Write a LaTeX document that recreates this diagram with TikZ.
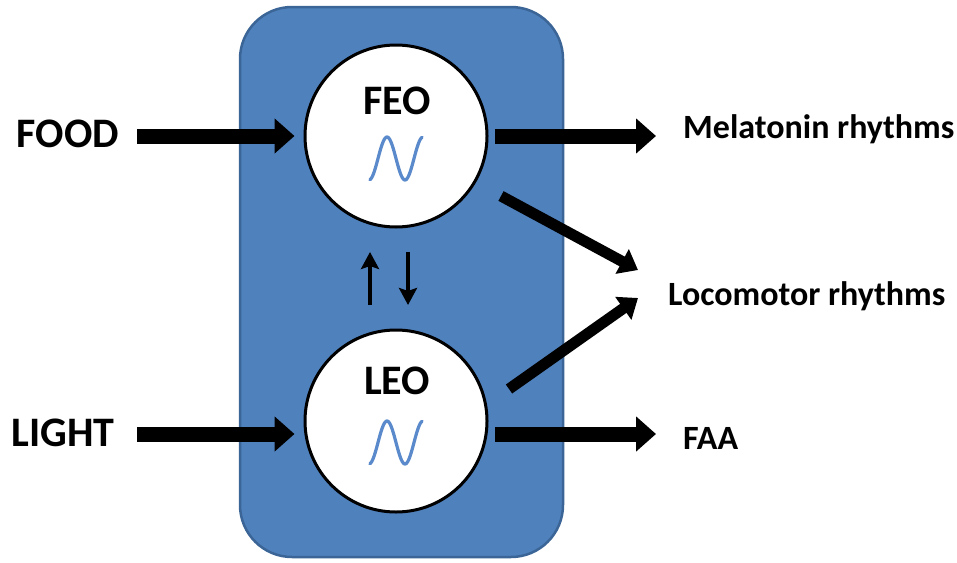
\documentclass[tikz,border=0pt]{standalone}
\usepackage{fontspec}
\setmainfont{Carlito}
\usetikzlibrary{arrows.meta}
\definecolor{boxfill}{HTML}{4F81BD}
\definecolor{boxedge}{HTML}{3A6596}
\definecolor{wave}{HTML}{5A8ACB}
\tikzset{
  bigarrow/.style={line width=15pt,-{Triangle[width=34pt,length=20pt]}},
  midarrow/.style={line width=11pt,-{Triangle[width=27pt,length=18pt]}},
  smallarrow/.style={line width=4pt,-{Stealth[width=18pt,length=17pt,inset=3pt]}},
  osc/.style={circle,draw=black,line width=3pt,fill=white,minimum size=182pt,inner sep=0pt},
  biglabel/.style={font=\bfseries\fontsize{42}{44}\selectfont,inner sep=0pt},
  outlabel/.style={font=\bfseries\fontsize{34}{36}\selectfont,inner sep=0pt,anchor=west},
  wavestyle/.style={wave,line width=3.2pt,line cap=round}
}
\begin{document}
\begin{tikzpicture}[x=1pt,y=-1pt]
\useasboundingbox (0,0) rectangle (957,562);
% body of the system
\draw[fill=boxfill,draw=boxedge,line width=2.5pt,rounded corners=52pt] (240,7) rectangle (563,557);
% oscillators
\node[osc] (feo) at (396,136) {};
\node[osc] (leo) at (396,421) {};
\node[biglabel] (feot) at (397,101) {FEO};
\node[biglabel] (leot) at (397,381) {LEO};
\draw[wavestyle] plot[domain=-0.95:1.95,samples=80,smooth] ({387+18*\x},{158.5-21.5*cos(\x*180)});
\draw[wavestyle] plot[domain=-0.95:1.95,samples=80,smooth] ({387+18*\x},{442.5-21.5*cos(\x*180)});
% inputs
\node[biglabel] (food) at (68,134) {FOOD};
\node[biglabel] (light) at (63,433) {LIGHT};
\coordinate (foodin) at (137,136);
\coordinate (lightin) at (137,434);
\draw[bigarrow] (foodin) -- ([xshift=-9pt]feo.west |- foodin);
\draw[bigarrow] (lightin) -- ([xshift=-9pt]leo.west |- lightin);
% outputs
\node[outlabel] (mel) at (683,129) {Melatonin rhythms};
\node[outlabel] (loco) at (668,296) {Locomotor rhythms};
\node[outlabel] (faa) at (683,438) {FAA};
\coordinate (melout) at (495,136);
\coordinate (faaout) at (495,434);
\draw[bigarrow] (melout) -- (656,136);
\draw[bigarrow] (faaout) -- (656,434);
\coordinate (feoout) at (501,196);
\coordinate (leoout) at (509,389);
\coordinate (locoa) at (638,270);
\coordinate (locob) at (638,298);
\draw[midarrow] (feoout) -- (locoa);
\draw[midarrow] (leoout) -- (locob);
% coupling between the oscillators
\coordinate (upb) at (370,305);
\coordinate (upt) at (370,252);
\coordinate (dnt) at (408,252);
\coordinate (dnb) at (408,305);
\draw[smallarrow] (upb) -- (upt);
\draw[smallarrow] (dnt) -- (dnb);
\end{tikzpicture}
\end{document}
